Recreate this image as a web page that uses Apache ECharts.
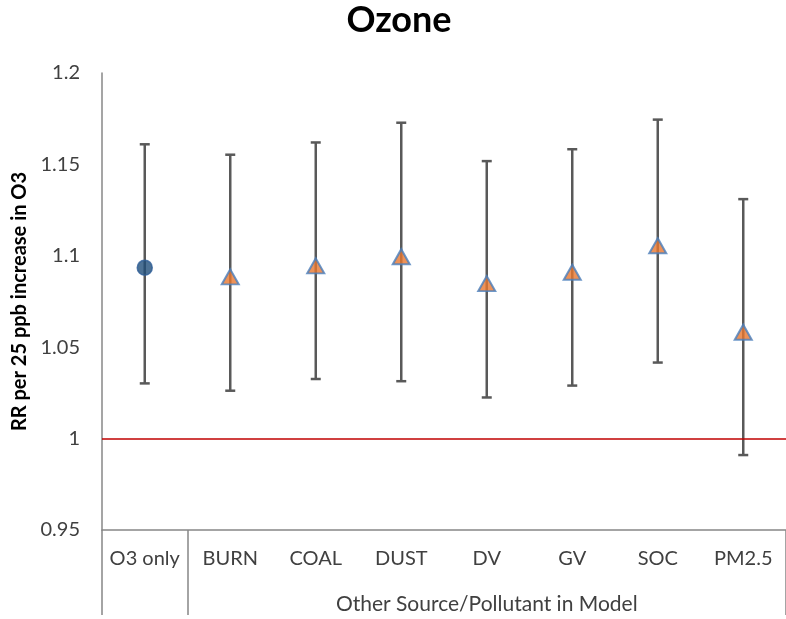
<!DOCTYPE html>
<html>
<head>
<meta charset="utf-8">
<title>Ozone</title>
<script src="https://cdn.jsdelivr.net/npm/echarts@6/dist/echarts.min.js"></script>
<style>
  html, body { margin: 0; padding: 0; background: #ffffff; }
  #chart { width: 786px; height: 619px; }
</style>
</head>
<body>
<div id="chart"></div>
<script>
// Relative risk of ozone with 95% confidence intervals, by co-pollutant in the model
const categories = ['O3 only', 'BURN', 'COAL', 'DUST', 'DV', 'GV', 'SOC', 'PM2.5'];
const estimate = [1.0935, 1.0885, 1.0945, 1.0995, 1.0848, 1.0910, 1.1055, 1.0582];
const lowerCI  = [1.0302, 1.0262, 1.0326, 1.0314, 1.0225, 1.0290, 1.0416, 0.9910];
const upperCI  = [1.1610, 1.1553, 1.1620, 1.1728, 1.1518, 1.1583, 1.1745, 1.1310];
const groupLabel = 'Other Source/Pollutant in Model';
const yMin = 0.95, yMax = 1.2, yStep = 0.05;
const refLevel = 1;

const FONT = 'Lato';
const AXIS_GRAY = '#878787';

const chart = echarts.init(document.getElementById('chart'), null, { renderer: 'canvas' });

const errorData = categories.map((c, i) => [i, lowerCI[i], upperCI[i]]);
const pointData = categories.map((c, i) => i === 0
  ? { value: [i, estimate[i]], symbol: 'circle', symbolSize: 15,
      itemStyle: { color: '#1F4E79', borderColor: '#2F5F98', borderWidth: 1.5 } }
  : { value: [i, estimate[i]], symbol: 'triangle', symbolSize: [17, 15],
      itemStyle: { color: '#E8772E', borderColor: '#4A7EBB', borderWidth: 2 } });

chart.setOption({
  animation: false,
  backgroundColor: '#ffffff',
  title: {
    text: 'Ozone',
    left: 399,
    top: 2,
    padding: 0,
    textAlign: 'center',
    textStyle: { fontFamily: FONT, fontWeight: 'bold', fontSize: 36, color: '#000000' }
  },
  grid: { left: 102, top: 73, width: 693, height: 457, containLabel: false },
  xAxis: {
    type: 'category',
    data: categories,
    boundaryGap: true,
    axisLine: { show: true, lineStyle: { color: AXIS_GRAY, width: 1.5 } },
    axisTick: {
      show: true,
      interval: (i) => i <= 1,
      length: 85,
      lineStyle: { color: AXIS_GRAY, width: 1.5 }
    },
    axisLabel: { interval: 0, margin: 19, fontFamily: FONT, fontSize: 20, color: '#404040' },
    splitLine: { show: false }
  },
  yAxis: {
    type: 'value',
    min: yMin,
    max: yMax,
    interval: yStep,
    name: 'RR per 25 ppb increase in O3',
    nameLocation: 'middle',
    nameGap: 68,
    nameRotate: 90,
    nameTextStyle: { fontFamily: FONT, fontWeight: 'bold', fontSize: 20, color: '#000000' },
    axisLine: { show: true, lineStyle: { color: AXIS_GRAY, width: 1.5 } },
    axisTick: { show: false },
    splitLine: { show: false },
    axisLabel: {
      margin: 22,
      fontFamily: FONT,
      fontSize: 20,
      color: '#404040',
      formatter: (v) => String(+v.toFixed(2))
    }
  },
  series: [
    {
      type: 'custom',
      name: 'CI',
      data: errorData,
      encode: { x: 0, y: [1, 2] },
      z: 2,
      renderItem: (params, api) => {
        const i = api.value(0);
        const lo = api.coord([i, api.value(1)]);
        const hi = api.coord([i, api.value(2)]);
        const cap = 5;
        const style = { stroke: '#595959', lineWidth: 2.5 };
        return {
          type: 'group',
          children: [
            { type: 'line', shape: { x1: hi[0], y1: hi[1], x2: lo[0], y2: lo[1] }, style },
            { type: 'line', shape: { x1: hi[0] - cap, y1: hi[1], x2: hi[0] + cap, y2: hi[1] }, style },
            { type: 'line', shape: { x1: lo[0] - cap, y1: lo[1], x2: lo[0] + cap, y2: lo[1] }, style }
          ]
        };
      },
      markLine: {
        silent: true,
        symbol: 'none',
        label: { show: false },
        lineStyle: { color: '#C00000', width: 1.5, type: 'solid' },
        data: [{ yAxis: refLevel }]
      }
    },
    {
      type: 'scatter',
      name: 'RR',
      data: pointData,
      z: 3
    }
  ]
});

// Group caption centred under the categories it spans (BURN .. PM2.5)
const xFirst = chart.convertToPixel({ xAxisIndex: 0 }, 1);
const xLast = chart.convertToPixel({ xAxisIndex: 0 }, categories.length - 1);
const yAxisBase = chart.convertToPixel({ yAxisIndex: 0 }, yMin);
chart.setOption({
  graphic: [{
    type: 'text',
    x: (xFirst + xLast) / 2,
    y: yAxisBase + 74,
    style: {
      text: groupLabel,
      fontFamily: FONT,
      fontSize: 21,
      fill: '#404040',
      align: 'center',
      verticalAlign: 'middle'
    }
  }]
});
</script>
</body>
</html>
